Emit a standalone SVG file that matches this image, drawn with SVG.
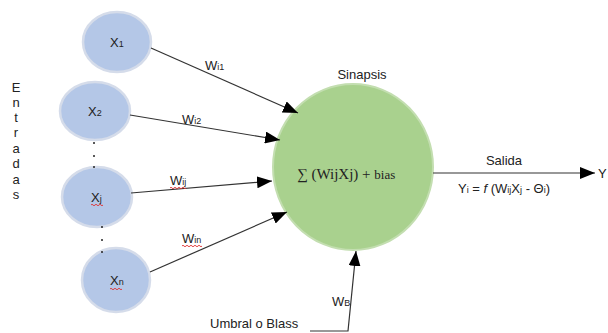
<svg xmlns="http://www.w3.org/2000/svg" width="608" height="333" viewBox="0 0 608 333">
<defs>
<marker id="arr" markerUnits="userSpaceOnUse" markerWidth="16" markerHeight="12" refX="15" refY="6" orient="auto">
<path d="M0,0 L15,6 L0,12 Z" fill="#000"/>
</marker>
<style>
.in{fill:#b4c7e7;stroke:#d5dcea;stroke-width:2.5}
.neu{fill:#a9d18e;stroke:#c3deb0;stroke-width:2}
.t{font-family:"Liberation Sans",Arial,sans-serif;font-size:13px;fill:#222}
.s{font-size:9px}
.c{stroke:#333;stroke-width:1.2;fill:none}
.sq{stroke:#e03030;stroke-width:0.9;fill:none}
.dot{fill:#222}
</style>
</defs>
<rect width="608" height="333" fill="#fff"/>
<g id="entradas">
<text class="t" x="16" text-anchor="middle"><tspan x="16" y="92">E</tspan><tspan x="16" y="107">n</tspan><tspan x="16" y="122">t</tspan><tspan x="16" y="137">r</tspan><tspan x="16" y="153">a</tspan><tspan x="16" y="168">d</tspan><tspan x="16" y="184">a</tspan><tspan x="16" y="199">s</tspan></text>
</g>
<g id="x1"><ellipse class="in" cx="117" cy="42" rx="34" ry="30"/><text class="t" x="110" y="47">X<tspan class="s">1</tspan></text></g>
<g id="x2"><ellipse class="in" cx="95" cy="111" rx="35" ry="29"/><text class="t" x="88" y="116">X<tspan class="s">2</tspan></text></g>
<g id="xj"><ellipse class="in" cx="97" cy="197" rx="35" ry="30"/><text class="t" x="91" y="202">X<tspan class="s">j</tspan></text><path class="sq" d="M91,205 q1,-1.5 2,0 t2,0 t2,0 t2,0 t2,0 t2,0"/></g>
<g id="xn"><ellipse class="in" cx="116" cy="280" rx="34" ry="32"/><text class="t" x="110" y="285">X<tspan class="s">n</tspan></text><path class="sq" d="M110,289 q1,-1.5 2,0 t2,0 t2,0 t2,0 t2,0 t2,0"/></g>
<g id="dots">
<circle class="dot" cx="94" cy="143" r="1"/><circle class="dot" cx="94" cy="156" r="1"/><circle class="dot" cx="94" cy="167" r="1"/>
<circle class="dot" cx="102" cy="227" r="1"/><circle class="dot" cx="102" cy="240" r="1"/><circle class="dot" cx="102" cy="252" r="1"/>
</g>
<g id="neurona"><ellipse class="neu" cx="353" cy="167" rx="80" ry="83"/>
<text x="297" y="179" font-family="'Liberation Serif','DejaVu Serif',serif" font-size="15" fill="#222">∑ (WijXj) + <tspan font-size="13">bias</tspan></text></g>
<g id="connectors">
<line class="c" x1="151" y1="48" x2="298" y2="113" marker-end="url(#arr)"/>
<line class="c" x1="130" y1="115" x2="280" y2="140" marker-end="url(#arr)"/>
<line class="c" x1="131" y1="193" x2="272" y2="181" marker-end="url(#arr)"/>
<line class="c" x1="150" y1="272" x2="287" y2="212" marker-end="url(#arr)"/>
<line class="c" x1="433" y1="173" x2="595" y2="173" marker-end="url(#arr)"/>
<polyline class="c" points="310,331 348,331 356,251" marker-end="url(#arr)"/>
</g>
<g id="labels">
<text class="t" x="205" y="70">W<tspan class="s">i1</tspan></text>
<text class="t" x="182" y="124">W<tspan class="s">i2</tspan></text>
<text class="t" x="170" y="185">W<tspan class="s">ij</tspan></text>
<path class="sq" d="M170,188 q1,-1.5 2,0 t2,0 t2,0 t2,0 t2,0 t2,0 t2,0 t2,0"/>
<text class="t" x="182" y="243">W<tspan class="s">in</tspan></text>
<path class="sq" d="M182,246 q1,-1.5 2,0 t2,0 t2,0 t2,0 t2,0 t2,0 t2,0 t2,0 t2,0 t2,0"/>
<text class="t" x="362" y="79" text-anchor="middle">Sinapsis</text>
<text class="t" x="504" y="165" text-anchor="middle">Salida</text>
<text class="t" x="598" y="178">Y</text>
<text class="t" x="458" y="193">Y<tspan class="s">i</tspan> = <tspan font-style="italic">f</tspan> (W<tspan class="s">ij</tspan>X<tspan class="s">j</tspan> - Θ<tspan class="s">i</tspan>)</text>
<text class="t" x="210" y="328">Umbral o Blass</text>
<text class="t" x="332" y="306">W<tspan class="s">B</tspan></text>
</g>
</svg>
